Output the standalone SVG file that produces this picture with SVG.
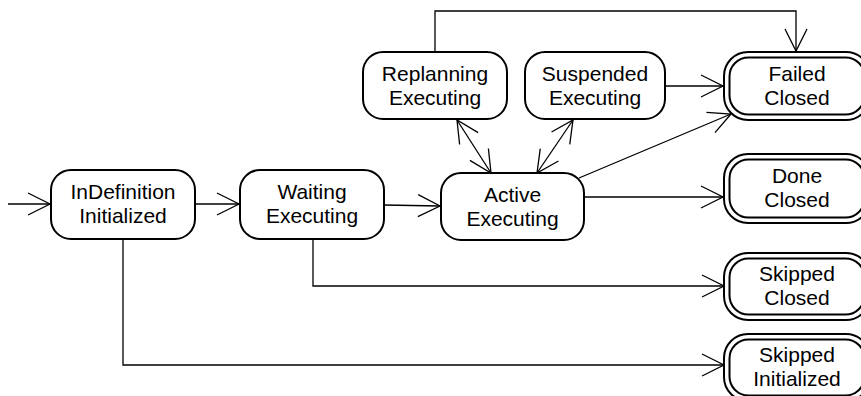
<svg xmlns="http://www.w3.org/2000/svg" width="861" height="396" viewBox="0 0 861 396">
  <style>
    .box { fill: #fff; stroke: #000; stroke-width: 2; }
    .lbl { font-family: "Liberation Sans", Arial, sans-serif; font-size: 21px; fill: #000; text-anchor: middle; }
    .edge { fill: none; stroke: #000; stroke-width: 1.3; }
  </style>
  <defs>
    <marker id="open" markerUnits="userSpaceOnUse" markerWidth="30" markerHeight="30" viewBox="-25 -15 30 30" refX="0" refY="0" orient="auto-start-reverse" overflow="visible">
      <path d="M-22,-11 L0,0 L-22,11" fill="none" stroke="#000" stroke-width="1.3"/>
    </marker>
  </defs>

  <rect width="861" height="396" fill="#fff"/>

  <g id="connectors">
    <line class="edge" x1="8" y1="204" x2="50" y2="204" marker-end="url(#open)"/>
    <line class="edge" x1="195" y1="204" x2="239" y2="204" marker-end="url(#open)"/>
    <line class="edge" x1="384" y1="205" x2="440" y2="206" marker-end="url(#open)"/>
    <line class="edge" x1="584" y1="197" x2="723" y2="197" marker-end="url(#open)"/>
    <line class="edge" x1="579" y1="178" x2="731" y2="114" marker-end="url(#open)"/>
    <line class="edge" x1="665" y1="86" x2="723" y2="86" marker-end="url(#open)"/>
    <line class="edge" x1="457" y1="120" x2="491" y2="173" marker-start="url(#open)" marker-end="url(#open)"/>
    <line class="edge" x1="573" y1="120" x2="537" y2="173" marker-start="url(#open)" marker-end="url(#open)"/>
    <polyline class="edge" points="435,52 435,11 796,11 796,51" marker-end="url(#open)"/>
    <polyline class="edge" points="313,239 313,286 724,286" marker-end="url(#open)"/>
    <polyline class="edge" points="123,239 123,365 724,365" marker-end="url(#open)"/>
  </g>

  <g id="indefinition-initialized">
    <rect class="box" x="51" y="170" width="144" height="69" rx="20"/>
    <text class="lbl" x="123" y="199">InDefinition</text>
    <text class="lbl" x="123" y="223">Initialized</text>
  </g>

  <g id="waiting-executing">
    <rect class="box" x="240" y="170" width="144" height="69" rx="20"/>
    <text class="lbl" x="312" y="199">Waiting</text>
    <text class="lbl" x="312" y="223">Executing</text>
  </g>

  <g id="active-executing">
    <rect class="box" x="441" y="173" width="143" height="67" rx="20"/>
    <text class="lbl" x="512.5" y="202">Active</text>
    <text class="lbl" x="512.5" y="226">Executing</text>
  </g>

  <g id="replanning-executing">
    <rect class="box" x="363" y="52" width="144" height="67" rx="20"/>
    <text class="lbl" x="435" y="81">Replanning</text>
    <text class="lbl" x="435" y="105">Executing</text>
  </g>

  <g id="suspended-executing">
    <rect class="box" x="525" y="52" width="140" height="67" rx="20"/>
    <text class="lbl" x="595" y="81">Suspended</text>
    <text class="lbl" x="595" y="105">Executing</text>
  </g>

  <g id="failed-closed">
    <rect class="box" x="724" y="52" width="146" height="68" rx="24"/>
    <rect class="box" x="729.5" y="57.5" width="135" height="57" rx="19"/>
    <text class="lbl" x="797" y="81">Failed</text>
    <text class="lbl" x="797" y="105">Closed</text>
  </g>

  <g id="done-closed">
    <rect class="box" x="724" y="154" width="146" height="69" rx="24"/>
    <rect class="box" x="729.5" y="159.5" width="135" height="58" rx="19"/>
    <text class="lbl" x="797" y="183">Done</text>
    <text class="lbl" x="797" y="207">Closed</text>
  </g>

  <g id="skipped-closed">
    <rect class="box" x="724" y="253" width="146" height="67" rx="24"/>
    <rect class="box" x="729.5" y="258.5" width="135" height="56" rx="19"/>
    <text class="lbl" x="797" y="281">Skipped</text>
    <text class="lbl" x="797" y="305">Closed</text>
  </g>

  <g id="skipped-initialized">
    <rect class="box" x="724" y="334" width="146" height="67" rx="24"/>
    <rect class="box" x="729.5" y="339.5" width="135" height="56" rx="19"/>
    <text class="lbl" x="797" y="362">Skipped</text>
    <text class="lbl" x="797" y="386">Initialized</text>
  </g>
</svg>
